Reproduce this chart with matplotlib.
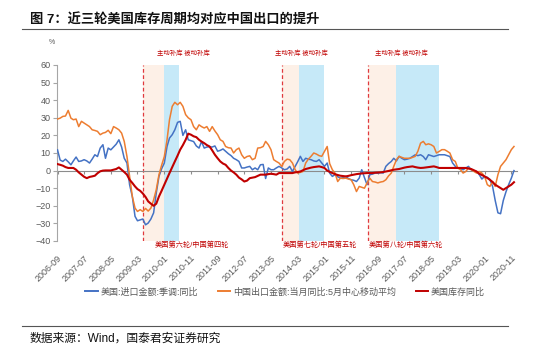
import numpy as np
import pandas as pd
import matplotlib
matplotlib.use("Agg")
import matplotlib.pyplot as plt
import matplotlib.dates as mdates
from matplotlib.lines import Line2D

plt.rcParams['font.family'] = ['Liberation Sans', 'Noto Sans CJK SC', 'DejaVu Sans']

# 月度数据 2006-09 ~ 2020-12
first_month = '2006-09-01'

us_import = [11.8, 6, 5.2, 6.5,
             5, 3.3, 5.5, 7.7, 5.2, 5.5, 6.2, 5.5, 4.3, 6.5, 9, 8,
             12.8, 14.7, 7, 12.8, 11.8, 13.4, 15, 17.5, 13.4, 7, 4.3, -8,
             -14.7, -26, -28.5, -28, -27.5, -30.8, -29.8, -27.5, -24, -12.8, -3.3, 1,
             4.3, 13.7, 18.5, 20.4, 23.2, 27.4, 28, 20, 23.2, 17.5, 17, 16.5,
             14, 12.8, 16.5, 12.8, 13.4, 13.5, 13.4, 14, 11, 11.5, 12.3, 11,
             9.6, 8.5, 7, 6.2, 5.2, 1.5, 1.5, 2, 2.4, 0.5, 1.5, 0.5,
             3.3, 3.5, -4.5, 1.5, 0.5, 0.5, 1.5, 2.4, 1.5, 0.5, 0.9, 2.4,
             -0.5, 2.4, 5, 8.1, 5.2, 7, 6.5, 6.2, 5.5, 5.2, 6.2, 4.3,
             2.4, 4.3, -1.4, -3.3, -2.3, -3.5, -4.3, -4, -3.3, -4.5, -5.2, -5.5,
             -6.2, -4.3, 0.5, -4, -8, -2.3, -2, -1.4, -1.5, -1.2, -1.4, 2.4,
             4, 5.2, 7, 5.5, 8.1, 7, 6.2, 6.5, 7, 8, 9, 8.5,
             9, 8, 6.2, 9, 8.5, 8, 8.5, 9, 9, 9, 8.5, 8,
             4.3, 2.4, 1.5, 1, 0.5, 1.5, 2.4, 0.5, 0, -0.5, -2.3, -4.8,
             -3.3, -3.8, -5, -9, -17, -24, -24.5, -17, -12, -8, -4.3, 0]

cn_export = [29.3, 29.8, 30.8, 31,
             34.2, 29.8, 28.9, 29.3, 25, 28, 27, 26, 25, 23.2, 22.8, 22.3,
             20.4, 21.3, 21.7, 22.9, 21, 25, 24.2, 23.2, 21.3, 16.6, 8, -3.3,
             -14.7, -21.3, -23.2, -22.2, -23.2, -21.5, -23, -21.3, -16.6, -10.9, -2.3, 3,
             8, 17.5, 28.9, 36.5, 38.8, 37.4, 38.8, 36.5, 31.8, 30, 28.9, 25,
             23.2, 26, 25, 24.2, 25, 22.3, 25, 22.5, 20.4, 17.5, 16.6, 13.7,
             13, 12.8, 10, 11.9, 12.8, 9, 7, 8, 8.4, 6.2, 7, 12.8,
             13, 13.7, 16.6, 14.7, 11.9, 6.2, 5.2, 4.3, 2.4, 5.2, 6.5, 6.2,
             4.3, 0.5, -1.4, -1, -0.5, 4.3, 6.5, 8.1, 10, 9.4, 8.5, 8.1,
             10.9, 13.7, 4, 0.5, -1.4, -6.2, -4.3, -4.5, -4.3, -4.8, -5.2, -8,
             -11.9, -9, -9.5, -10, -7, -4.3, -6.2, -6.5, -7, -6.5, -6.2, -5.2,
             -3, -1.4, 2.4, 6.2, 8.1, 7.5, 7, 7, 7, 7.5, 8.1, 11,
             15.6, 16.6, 14.7, 15.2, 14.7, 13.7, 10, 10.9, 11.9, 11.9, 11, 10,
             6.2, 5.2, 1.5, 0.5, -1.4, -0.5, 1.5, 0.5, -0.5, -1.4, -0.5, -1.4,
             -3.3, -8, -9, -6.2, -9, -2.3, 2.4, 4.3, 6.2, 9, 11.9, 13.7]

us_inventory = [3.7, 3.3, 2.8, 2,
                1.5, 1.5, 1.5, 0.5, -1, -2.3, -3.5, -4.3, -3.6, -3.3, -2.9, -1.5,
                -0.4, 0, 0.1, 0.1, 0.1, 0.5, 0.9, 1.8, 0.5, -0.8, -2.3, -5.2,
                -7, -9, -10.5, -11.5, -13, -15, -17.5, -18.8, -20, -18.8, -14.7, -11.5,
                -8, -4.5, -1.4, 2, 5.2, 8.5, 11.9, 14.5, 17.5, 21, 20.4, 19.5,
                19, 17.5, 16.5, 15.6, 14.5, 13.7, 11.5, 9, 7, 5.2, 4, 3.3,
                1.5, 0, -1, -2.3, -4, -5, -6.2, -5.7, -4.3, -4, -3.7, -3,
                -2.3, -2.3, -2.3, -2, -1.8, -2, -2.3, -1.4, -1.4, -1.4, -1.4, -1.4,
                -1.4, -1, -0.8, -0.5, 0.2, 0.9, 1.3, 1.7, 2, 2.2, 2.4, 2,
                1.5, 0, -0.7, -1.4, -2, -2.5, -2.9, -3.1, -3.3, -3, -2.6, -2.3,
                -2, -1.8, -1.6, -1.5, -1.4, -1.4, -1.4, -1.2, -1.1, -1, -0.8, -0.5,
                -0.2, 0.2, 0.5, 0.7, 0.9, 1.3, 1.7, 2, 2.2, 2.4, 2, 1.7,
                1.5, 1.6, 1.8, 2, 2.2, 2.4, 2, 1.5, 1.5, 1.5, 1.5, 1.5,
                1.5, 1.5, 1.5, 1.5, 1.5, 1.5, 1.2, 0.9, 0.2, -0.5, -1.8, -2.5,
                -3.3, -4.2, -5.2, -6.5, -8, -9, -9.9, -10.9, -9.9, -9, -8, -6.6]

tick_labels = ['2006-09', '2007-07', '2008-05', '2009-03', '2010-01', '2010-11',
               '2011-09', '2012-07', '2013-05', '2014-03', '2015-01', '2015-11',
               '2016-09', '2017-07', '2018-05', '2019-03', '2020-01', '2020-11']

# 三轮库存周期：主动补库开始 / 被动补库开始 / 结束
cycle_start = ['2009-05-01', '2013-09-07', '2016-05-07']
cycle_mid = ['2010-01-01', '2014-03-20', '2017-04-01']
cycle_end = ['2010-06-15', '2014-12-25', '2018-08-01']
cycle_names = ['美国第六轮/中国第四轮', '美国第七轮/中国第五轮', '美国第八轮/中国第六轮']

series_names = ['美国:进口金额:季调:同比', '中国出口金额:当月同比:5月中心移动平均', '美国库存同比']
series_colors = ['#4472C4', '#ED7D31', '#C00000']

W, H = 550, 353
fig = plt.figure(figsize=(5.5, 3.53), dpi=100)
ax = fig.add_axes([57.5 / W, 1 - 241 / H, 459.2 / W, 176 / H])

months = mdates.date2num(pd.date_range(first_month, periods=len(us_import), freq='MS'))
num = lambda s: mdates.date2num(pd.to_datetime(s))

for a, b, c in zip(cycle_start, cycle_mid, cycle_end):
    ax.axvspan(num(a), num(b), color='#FDF0E7', lw=0, zorder=0)
    ax.axvspan(num(b), num(c), color='#C6E9F8', lw=0, zorder=0)
    ax.axvline(num(a), color='#E0393E', lw=0.9, ls=(0, (3, 2)), zorder=1)

ax.plot(months, us_import, color=series_colors[0], lw=1.1, zorder=3)
ax.plot(months, cn_export, color=series_colors[1], lw=1.1, zorder=3)
ax.plot(months, us_inventory, color=series_colors[2], lw=1.5, zorder=4)

ax.set_ylim(-40, 60)
ax.set_yticks(range(-40, 61, 10))
ax.set_xlim(num(first_month), num('2021-01-01'))
ticks = [num(t) for t in tick_labels]

for s in ['top', 'right']:
    ax.spines[s].set_visible(False)
ax.spines['left'].set_color('#A6A6A6')
ax.spines['bottom'].set_position(('data', 0))
ax.spines['bottom'].set_color('#8C8C8C')
ax.spines['bottom'].set_zorder(2)
ax.set_xticks(ticks)
ax.tick_params(axis='x', length=2.5, color='#8C8C8C', labelbottom=False)
ax.tick_params(axis='y', length=3, color='#A6A6A6', labelsize=6.5, labelcolor='#595959', pad=2)
ax.patch.set_alpha(0)

sec = ax.secondary_xaxis(0)
sec.set_xticks(ticks, labels=tick_labels)
sec.spines['bottom'].set_visible(False)
sec.tick_params(length=0, pad=9, labelsize=6.5, labelcolor='#595959')
for lb in sec.get_xticklabels():
    lb.set_rotation(45)
    lb.set_ha('right')
    lb.set_va('top')
    lb.set_rotation_mode('anchor')

# 标注
red = '#C00000'
for xc in [183, 301, 401]:
    fig.text(xc / W, 1 - 53 / H, '主动补库 被动补库', color=red, fontsize=4.6,
             ha='center', va='center')
for xc, name in zip([192, 320, 406], cycle_names):
    fig.text(xc / W, 1 - 245 / H, name, color=red, fontsize=5.2, ha='center', va='center')
fig.text(52 / W, 1 - 43 / H, '%', color='#595959', fontsize=5, ha='center', va='center')

handles = [Line2D([], [], color=c, lw=1.4) for c in series_colors]
fig.legend(handles, series_names, loc='center', bbox_to_anchor=(285 / W, 1 - 292 / H),
           ncol=3, frameon=False, fontsize=6.5, handlelength=1.4, handletextpad=0.3,
           columnspacing=2.2, labelcolor='#595959')

# 标题与来源
fig.text(30 / W, 1 - 20 / H, '图 7：近三轮美国库存周期均对应中国出口的提升', fontsize=9.5,
         weight='bold', ha='left', va='center', color='#111111')
fig.add_artist(Line2D([22 / W, 508 / W], [1 - 29 / H] * 2, transform=fig.transFigure,
                      color='#555555', lw=0.8))
fig.add_artist(Line2D([22 / W, 508 / W], [1 - 326 / H] * 2, transform=fig.transFigure,
                      color='#555555', lw=0.8))
fig.text(30 / W, 1 - 339 / H, '数据来源：Wind，国泰君安证券研究', fontsize=8.5,
         ha='left', va='center', color='#111111')

fig.savefig('out.png', dpi=100)
